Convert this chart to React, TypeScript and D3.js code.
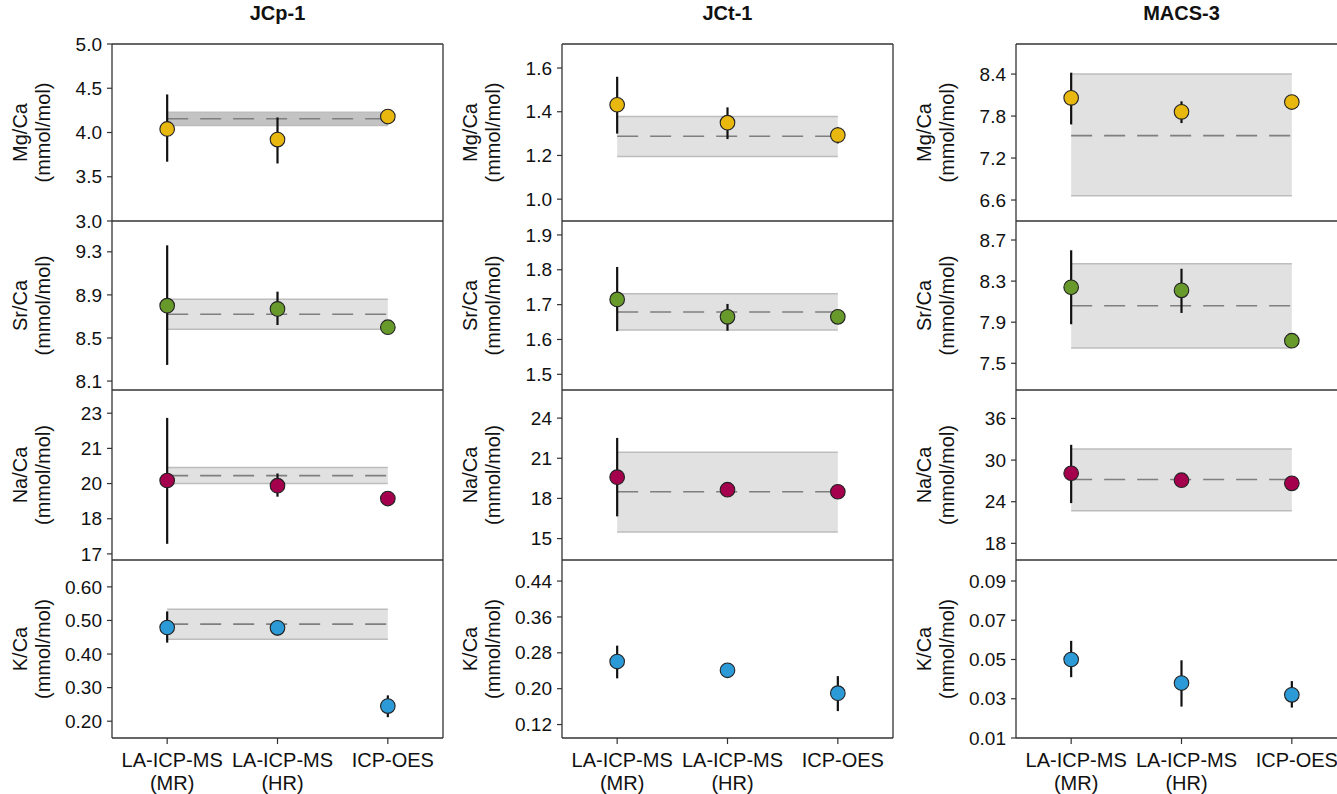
import React from "react";
import * as d3 from "d3";

const samples = ["JCp-1", "JCt-1", "MACS-3"];
const methods = ["MR", "HR", "OES"];
const methodLabels = [["LA-ICP-MS", "(MR)"], ["LA-ICP-MS", "(HR)"], ["ICP-OES", ""]];
const ratios = ["Mg/Ca", "Sr/Ca", "Na/Ca", "K/Ca"];
const ratioColors = ["#E9B80F", "#68992B", "#A5004D", "#2C9AD6"];

// values [sample][ratio][method]
const values = [
  [[4.04, 3.92, 4.18], [8.80, 8.77, 8.60], [20.13, 19.91, 19.36], [0.479, 0.478, 0.245]],
  [[1.432, 1.35, 1.293], [1.715, 1.665, 1.665], [19.59, 18.65, 18.5], [0.2605, 0.241, 0.19]],
  [[8.06, 7.86, 8.0], [8.24, 8.21, 7.72], [28.1, 27.1, 26.65], [0.05, 0.038, 0.032]],
];
const errLow = [
  [[3.67, 3.65, 4.15], [8.25, 8.62, 8.58], [17.43, 19.44, 19.3], [0.434, 0.455, 0.212]],
  [[1.30, 1.275, 1.255], [1.624, 1.625, 1.66], [16.66, 18.2, 18.0], [0.223, 0.235, 0.15]],
  [[7.68, 7.70, 7.98], [7.88, 7.99, 7.70], [23.8, 26.9, 26.5], [0.041, 0.026, 0.0255]],
];
const errHigh = [
  [[4.43, 4.17, 4.21], [9.36, 8.93, 8.62], [22.8, 20.43, 19.42], [0.527, 0.50, 0.277]],
  [[1.56, 1.42, 1.33], [1.808, 1.702, 1.67], [22.52, 19.1, 19.0], [0.296, 0.25, 0.228]],
  [[8.42, 8.01, 8.02], [8.60, 8.42, 7.74], [32.2, 27.3, 26.8], [0.0595, 0.0496, 0.039]],
];
// certified reference band [low, mean, high] or null
const refBands = [
  [[4.08, 4.155, 4.23], [8.58, 8.72, 8.86], [20.0, 20.34, 20.69], [0.444, 0.489, 0.533]],
  [[1.195, 1.288, 1.378], [1.627, 1.679, 1.731], [15.5, 18.5, 21.45], null],
  [[6.66, 7.52, 8.40], [7.65, 8.06, 8.47], [22.7, 27.2, 31.6], null],
];
const yDomains = [
  [[3, 5], [8.017, 9.586], [16.74, 23.99], [0.15, 0.68]],
  [[0.9, 1.71], [1.455, 1.94], [13.4, 26.1], [0.09, 0.487]],
  [[6.3, 8.83], [7.24, 8.885], [15.6, 40.1], [0.01, 0.1007]],
];
const yTicks = [
  [[3, 3.5, 4, 4.5, 5], [8.1, 8.5, 8.9, 9.3], [17, 18.5, 20, 21.5, 23], [0.2, 0.3, 0.4, 0.5, 0.6]],
  [[1.0, 1.2, 1.4, 1.6], [1.5, 1.6, 1.7, 1.8, 1.9], [15, 18, 21, 24], [0.12, 0.2, 0.28, 0.36, 0.44]],
  [[6.6, 7.2, 7.8, 8.4], [7.5, 7.9, 8.3, 8.7], [18, 24, 30, 36], [0.01, 0.03, 0.05, 0.07, 0.09]],
];
const yTickLabels = [
  [["3.0", "3.5", "4.0", "4.5", "5.0"], ["8.1", "8.5", "8.9", "9.3"], ["17", "18", "20", "21", "23"], ["0.20", "0.30", "0.40", "0.50", "0.60"]],
  [["1.0", "1.2", "1.4", "1.6"], ["1.5", "1.6", "1.7", "1.8", "1.9"], ["15", "18", "21", "24"], ["0.12", "0.20", "0.28", "0.36", "0.44"]],
  [["6.6", "7.2", "7.8", "8.4"], ["7.5", "7.9", "8.3", "8.7"], ["18", "24", "30", "36"], ["0.01", "0.03", "0.05", "0.07", "0.09"]],
];

const W = 1337;
const H = 794;
const colLeft = [112, 562, 1016];
const plotW = 331;
const rowEdges = [44, 221, 390, 560, 738];
const FONT = "Liberation Sans, Arial, Helvetica, sans-serif";
const axisColor = "#333";

function Panel({ s, r }: { s: number; r: number }) {
  const x0 = colLeft[s];
  const top = rowEdges[r];
  const bottom = rowEdges[r + 1];
  const x = d3.scalePoint<string>().domain(methods).range([x0, x0 + plotW]).padding(0.5);
  const y = d3.scaleLinear().domain(yDomains[s][r]).range([bottom, top]);
  const band = refBands[s][r];
  const bandFill = s === 0 && r === 0 ? "#c3c3c3" : "#e1e1e1";
  const xa = x(methods[0])!;
  const xb = x(methods[2])!;
  const midY = (top + bottom) / 2;
  return (
    <g>
      {band && (
        <g>
          <rect x={xa} width={xb - xa} y={y(band[2])} height={y(band[0]) - y(band[2])} fill={bandFill} />
          <line x1={xa} x2={xb} y1={y(band[2])} y2={y(band[2])} stroke="#bdbdbd" strokeWidth={1.5} />
          <line x1={xa} x2={xb} y1={y(band[0])} y2={y(band[0])} stroke="#bdbdbd" strokeWidth={1.5} />
          <line x1={xa} x2={xb} y1={y(band[1])} y2={y(band[1])} stroke="#7f7f7f" strokeWidth={1.6} strokeDasharray="21 12" />
        </g>
      )}
      {methods.map((m, i) => (
        <line key={"e" + i} x1={x(m)} x2={x(m)} y1={y(errLow[s][r][i])} y2={y(errHigh[s][r][i])} stroke="#111" strokeWidth={2.2} />
      ))}
      {methods.map((m, i) => (
        <circle key={"c" + i} cx={x(m)} cy={y(values[s][r][i])} r={7.3} fill={ratioColors[r]} stroke="#222" strokeWidth={1.1} />
      ))}
      {yTicks[s][r].map((t, i) => (
        <g key={"t" + i}>
          <line x1={x0 - 5} x2={x0} y1={y(t)} y2={y(t)} stroke={axisColor} strokeWidth={1.2} />
          <text x={x0 - 10} y={y(t)} dy="0.35em" textAnchor="end" fontSize={19} fontFamily={FONT} fill="#111">
            {yTickLabels[s][r][i]}
          </text>
        </g>
      ))}
      <text transform={`translate(${x0 - 85},${midY}) rotate(-90)`} textAnchor="middle" fontSize={20} fontFamily={FONT} fill="#111">
        {ratios[r]}
      </text>
      <text transform={`translate(${x0 - 62},${midY}) rotate(-90)`} textAnchor="middle" fontSize={20} fontFamily={FONT} fill="#111">
        (mmol/mol)
      </text>
      {r > 0 && <line x1={x0} x2={x0 + plotW} y1={top} y2={top} stroke={axisColor} strokeWidth={1.3} />}
    </g>
  );
}

function Column({ s }: { s: number }) {
  const x0 = colLeft[s];
  const x = d3.scalePoint<string>().domain(methods).range([x0, x0 + plotW]).padding(0.5);
  const top = rowEdges[0];
  const bottom = rowEdges[4];
  return (
    <g>
      {ratios.map((_, r) => (
        <Panel key={r} s={s} r={r} />
      ))}
      <line x1={x0} x2={x0 + plotW} y1={top} y2={top} stroke={axisColor} strokeWidth={1.3} />
      <line x1={x0} x2={x0 + plotW} y1={bottom} y2={bottom} stroke={axisColor} strokeWidth={1.3} />
      <line x1={x0} x2={x0} y1={top} y2={bottom} stroke={axisColor} strokeWidth={1.3} />
      <line x1={x0 + plotW} x2={x0 + plotW} y1={top} y2={bottom} stroke={axisColor} strokeWidth={1.3} />
      {methods.map((m, i) => (
        <g key={m}>
          <line x1={x(m)} x2={x(m)} y1={bottom} y2={bottom + 6} stroke={axisColor} strokeWidth={1.2} />
          <text x={(x(m) as number) + 5} y={767} textAnchor="middle" fontSize={20} fontFamily={FONT} fill="#111">
            {methodLabels[i][0]}
          </text>
          <text x={(x(m) as number) + 5} y={790} textAnchor="middle" fontSize={20} fontFamily={FONT} fill="#111">
            {methodLabels[i][1]}
          </text>
        </g>
      ))}
      <text x={x0 + plotW / 2} y={20} textAnchor="middle" fontSize={20} fontWeight="bold" fontFamily={FONT} fill="#111">
        {samples[s]}
      </text>
    </g>
  );
}

export default function App() {
  return (
    <div style={{ position: "absolute", left: 0, top: 0, width: W, height: H, overflow: "hidden", background: "#fff" }}>
      <svg width={W} height={H} viewBox={`0 0 ${W} ${H}`} style={{ display: "block" }}>
        <rect width={W} height={H} fill="#fff" />
        {samples.map((_, s) => (
          <Column key={s} s={s} />
        ))}
      </svg>
    </div>
  );
}
